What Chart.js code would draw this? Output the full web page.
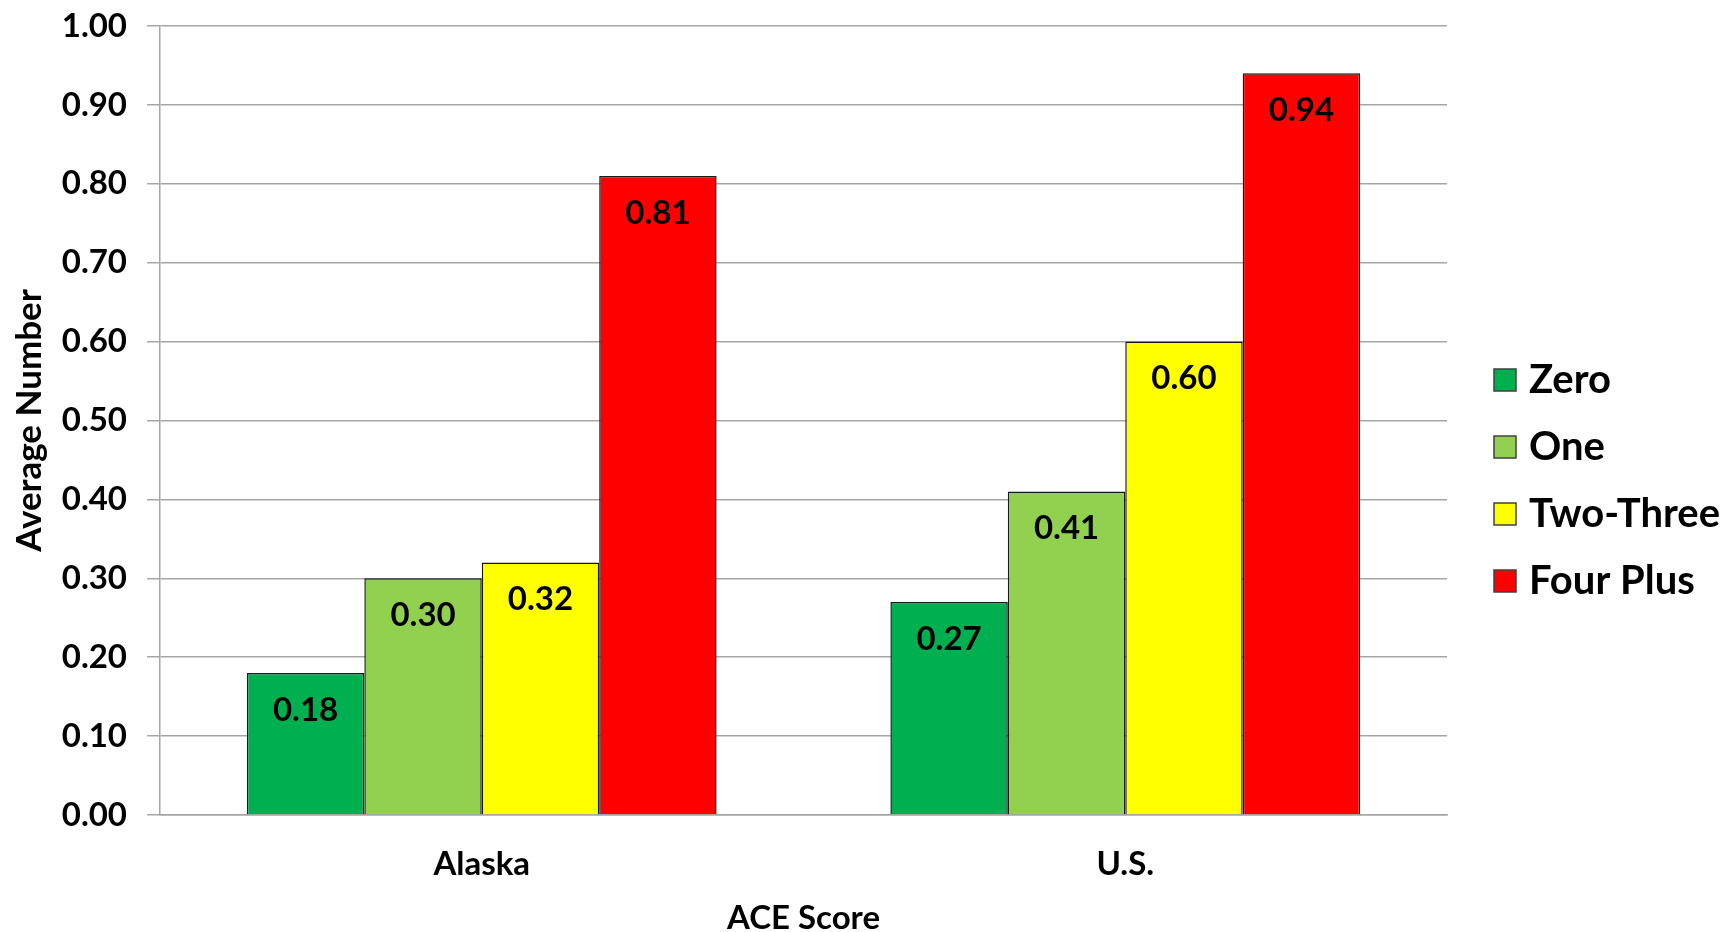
<!DOCTYPE html>
<html>
<head>
<meta charset="utf-8">
<script src="https://cdn.jsdelivr.net/npm/chart.js@4/dist/chart.umd.min.js"></script>
<style>
    html, body { margin: 0; padding: 0; background: #ffffff; }
    #wrap { width: 1725px; height: 932px; }
</style>
</head>
<body>
<div id="wrap"><canvas id="aceChart" width="1725" height="932"></canvas></div>
<script>
// chart data
const categories = ['Alaska', 'U.S.'];
const seriesNames = ['Zero', 'One', 'Two-Three', 'Four Plus'];
const zeroValues = [0.18, 0.27];
const oneValues = [0.30, 0.41];
const twoThreeValues = [0.32, 0.60];
const fourPlusValues = [0.81, 0.94];
const seriesColors = ['#00b050', '#92d050', '#ffff00', '#ff0000'];

const FONT = 'Lato, "Liberation Sans", sans-serif';
const gridGray = '#a6a6a6';

// value labels inside the top of each bar
const barLabels = {
    id: 'barLabels',
    afterDatasetsDraw(chart) {
        const ctx = chart.ctx;
        ctx.save();
        ctx.font = 'bold 33px ' + FONT;
        ctx.fillStyle = '#000000';
        ctx.textAlign = 'center';
        ctx.textBaseline = 'middle';
        chart.data.datasets.forEach((ds, i) => {
            chart.getDatasetMeta(i).data.forEach((bar, j) => {
                ctx.fillText(ds.data[j].toFixed(2), bar.x, bar.y + 37);
            });
        });
        ctx.restore();
    }
};

// legend drawn on the right, Excel style
const sideLegend = {
    id: 'sideLegend',
    afterDraw(chart) {
        const ctx = chart.ctx;
        ctx.save();
        ctx.font = 'bold 40px ' + FONT;
        ctx.textBaseline = 'middle';
        chart.data.datasets.forEach((ds, i) => {
            const y = 380 + i * 67;
            ctx.fillStyle = ds.backgroundColor;
            ctx.fillRect(1494, y - 11, 22, 22);
            ctx.strokeStyle = '#404040';
            ctx.lineWidth = 1.5;
            ctx.strokeRect(1494, y - 11, 22, 22);
            ctx.fillStyle = '#000000';
            ctx.fillText(ds.label, 1529, y);
        });
        ctx.restore();
    }
};

const valueSets = [zeroValues, oneValues, twoThreeValues, fourPlusValues];

new Chart(document.getElementById('aceChart'), {
    type: 'bar',
    data: {
        labels: categories,
        datasets: seriesNames.map((name, i) => ({
            label: name,
            data: valueSets[i],
            backgroundColor: seriesColors[i],
            borderColor: '#1a1a1a',
            borderWidth: 1.5,
            categoryPercentage: 0.73,
            barPercentage: 1.0
        }))
    },
    options: {
        responsive: false,
        animation: false,
        layout: {
            padding: { top: 26, right: 278, left: 0, bottom: 0 }
        },
        plugins: {
            legend: { display: false },
            tooltip: { enabled: false }
        },
        scales: {
            y: {
                min: 0,
                max: 1,
                afterFit: (s) => { s.width = 160; s.paddingTop = 0; },
                ticks: {
                    stepSize: 0.1,
                    padding: 20,
                    color: '#000000',
                    font: { family: FONT, size: 33, weight: 'bold' },
                    callback: (v) => v.toFixed(2)
                },
                grid: {
                    color: gridGray,
                    lineWidth: 1.5,
                    tickLength: 13
                },
                border: { color: gridGray, width: 1.5 },
                title: {
                    display: true,
                    text: 'Average Number',
                    color: '#000000',
                    font: { family: FONT, size: 35, weight: 'bold' },
                    padding: { top: 9, bottom: 0 }
                }
            },
            x: {
                afterFit: (s) => { s.height = 117; },
                ticks: {
                    padding: 22,
                    color: '#000000',
                    font: { family: FONT, size: 33, weight: 'bold' }
                },
                grid: { display: false },
                border: { color: gridGray, width: 1.5 },
                title: {
                    display: true,
                    text: 'ACE Score',
                    color: '#000000',
                    font: { family: FONT, size: 33, weight: 'bold' },
                    padding: { top: 0, bottom: -6 }
                }
            }
        }
    },
    plugins: [barLabels, sideLegend]
});
</script>
</body>
</html>
